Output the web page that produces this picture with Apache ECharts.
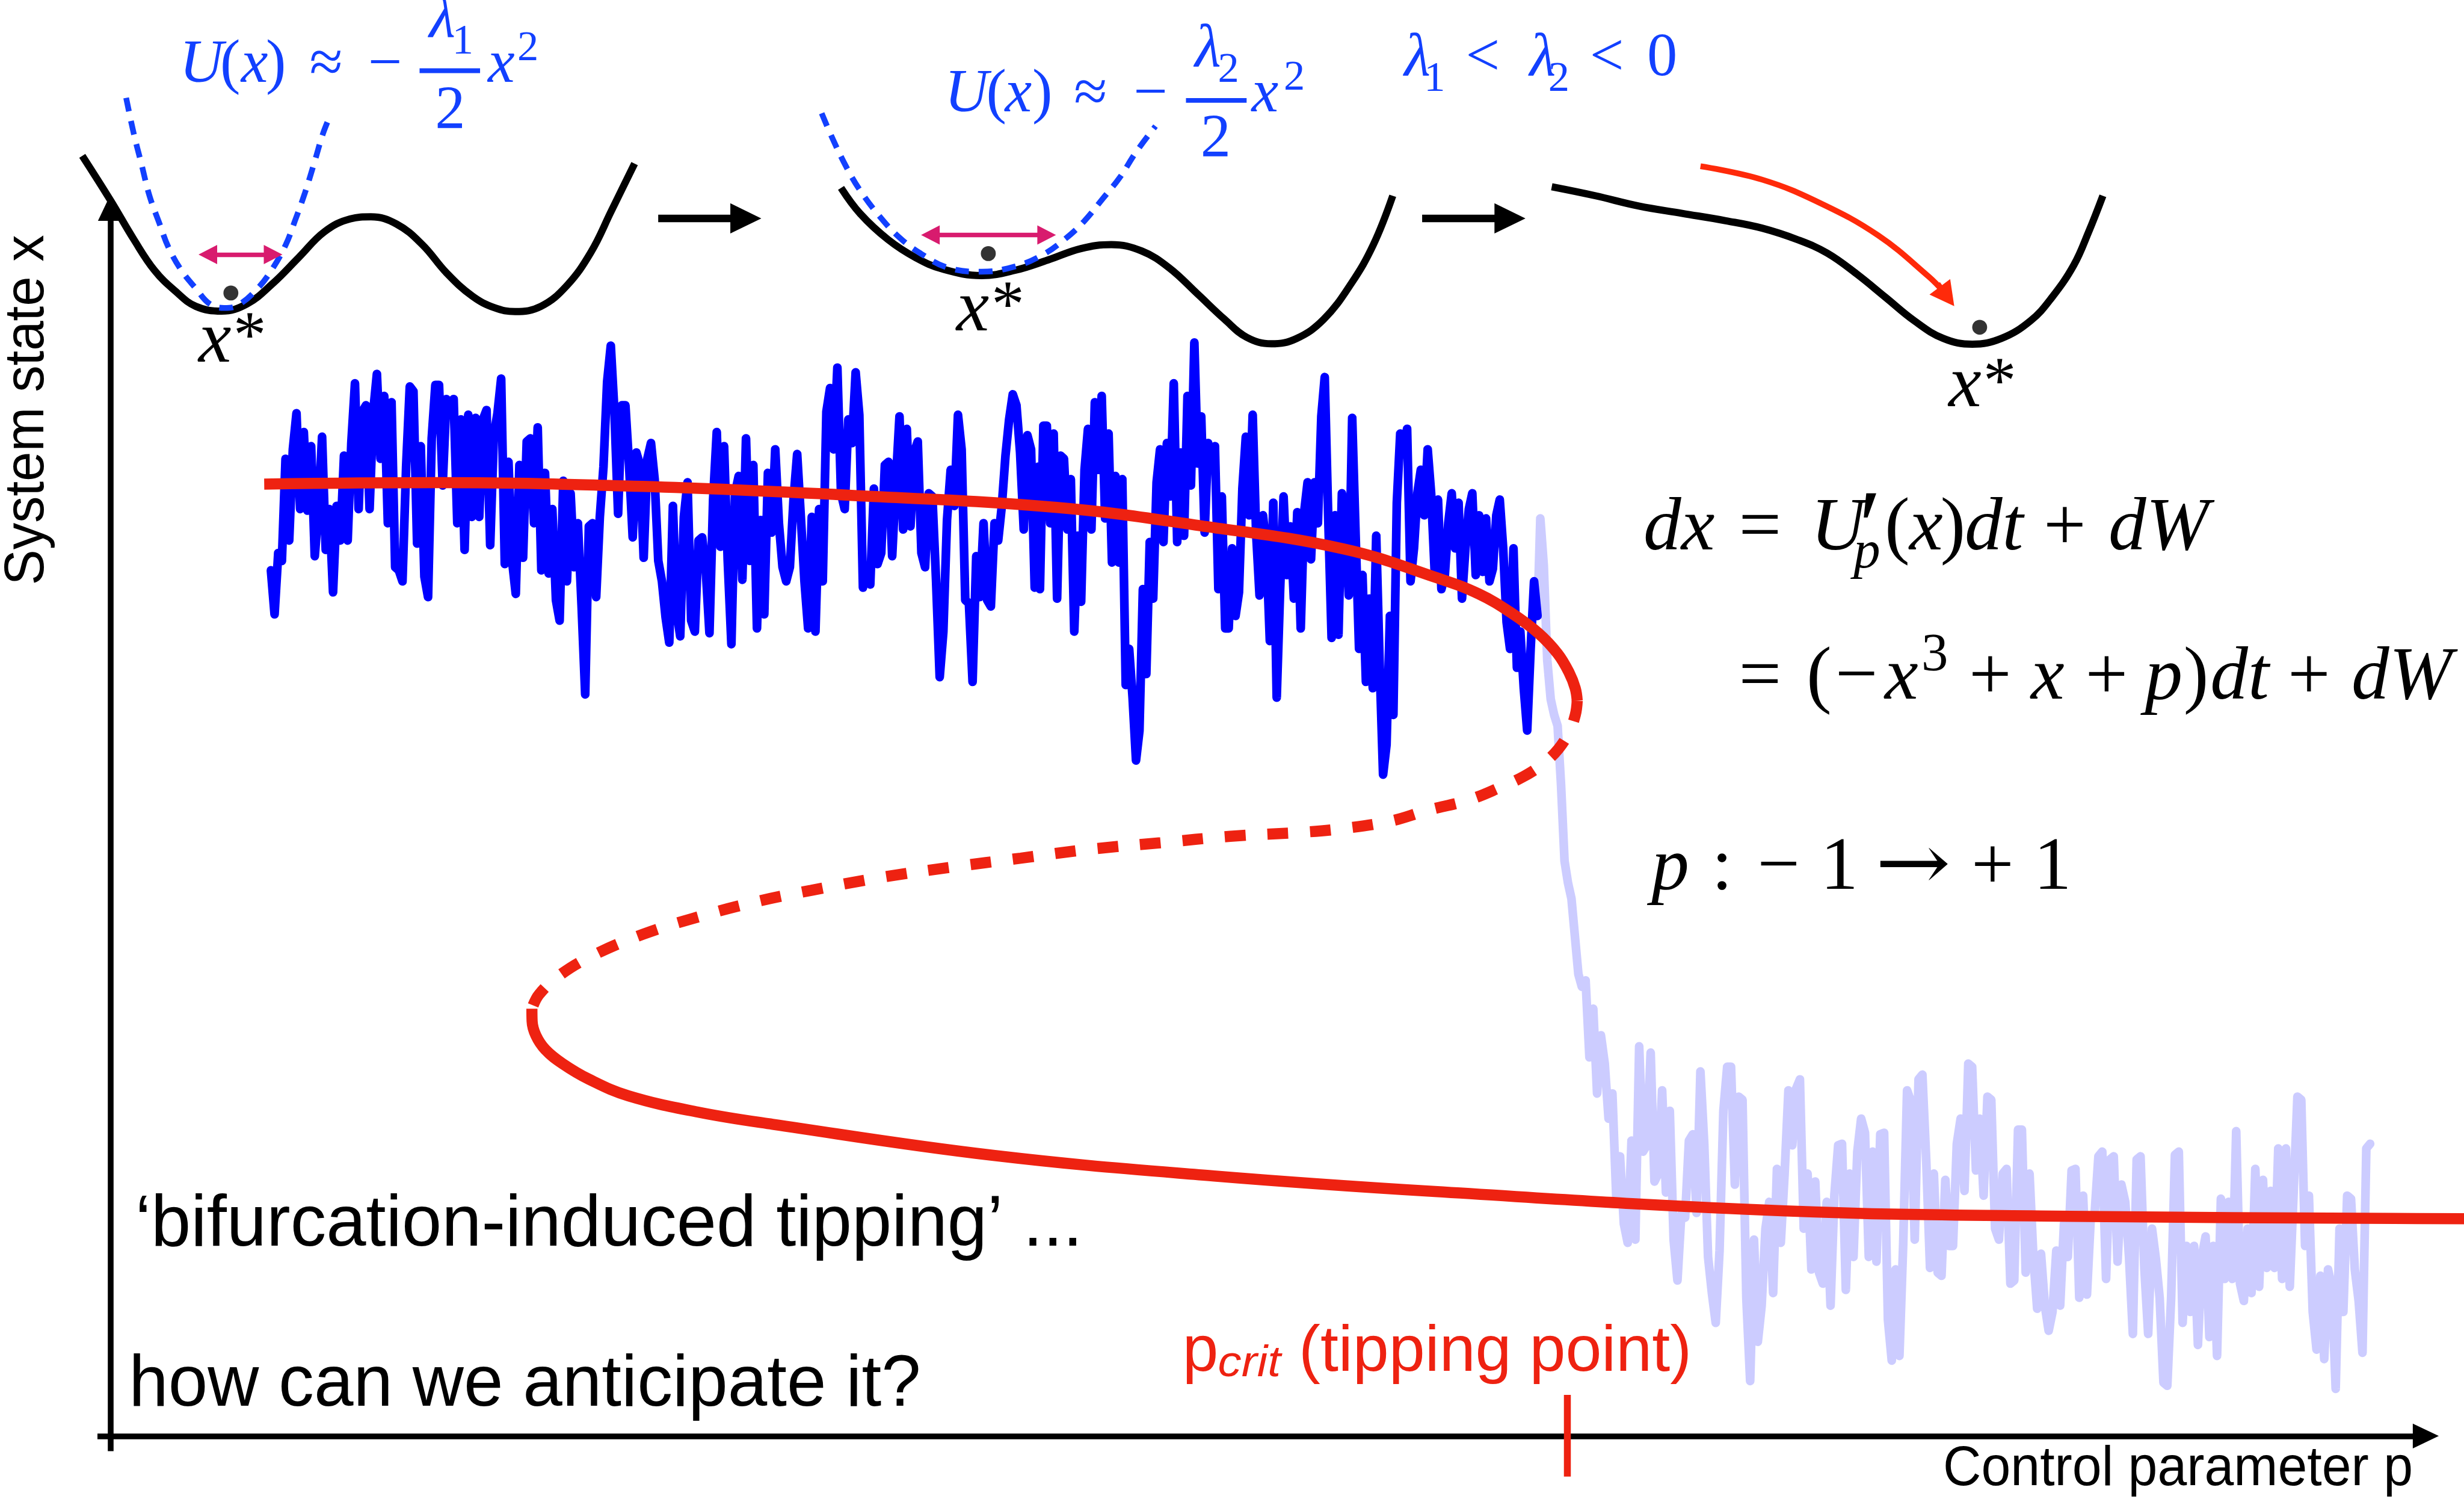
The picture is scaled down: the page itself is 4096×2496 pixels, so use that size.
<!DOCTYPE html>
<html>
<head>
<meta charset="utf-8">
<title>Bifurcation-induced tipping</title>
<script src="https://cdn.jsdelivr.net/npm/echarts@6/dist/echarts.min.js"></script>
<style>
  html, body { margin: 0; padding: 0; background: #ffffff; }
  #chart { width: 4096px; height: 2496px; }
</style>
</head>
<body>
<div id="chart"></div>
<script>
// ---------------------------------------------------------------------------
// Data
// ---------------------------------------------------------------------------

// Equilibrium branches of dx = (-x^3 + x + p)dt : [control parameter p, state x]
const upperBranch = [
  [-1.0028, 6.059], [-0.8382, 6.068], [-0.6417, 6.044], [-0.4450, 5.988], [-0.2466, 5.910],
  [-0.1097, 5.794], [0.0271, 5.646], [0.1184, 5.457], [0.1559, 5.360], [0.1868, 5.240],
  [0.2129, 5.110], [0.2312, 4.980], [0.2421, 4.860], [0.2480, 4.760], [0.2499, 4.680]
];
const unstableBranch = [
  [0.2499, 4.680], [0.2481, 4.590], [0.2421, 4.480], [0.2316, 4.370], [0.2174, 4.280],
  [0.1994, 4.200], [0.1769, 4.130], [0.1469, 4.050], [0.1057, 3.980], [0.0724, 3.915],
  [0.0256, 3.866], [-0.0142, 3.842], [-0.0810, 3.817], [-0.1477, 3.776], [-0.2144, 3.735],
  [-0.2811, 3.678], [-0.3478, 3.620], [-0.4144, 3.555], [-0.4811, 3.473], [-0.5345, 3.399],
  [-0.5945, 3.293], [-0.6412, 3.194], [-0.6879, 3.063], [-0.7211, 2.932], [-0.7406, 2.810],
  [-0.7474, 2.720]
];
const lowerBranch = [
  [-0.7474, 2.720], [-0.7472, 2.640], [-0.7436, 2.550], [-0.7346, 2.460], [-0.7181, 2.370],
  [-0.6927, 2.270], [-0.6552, 2.165], [-0.5877, 2.060], [-0.5177, 1.984], [-0.3070, 1.786],
  [-0.0966, 1.655], [0.1141, 1.556], [0.4483, 1.433], [0.7202, 1.398], [1.0292, 1.385],
  [1.0960, 1.383]
];
const pCrit = 0.2405;

// Simulated trajectory x(t) while p is ramped from -1 to +1 (evenly spaced in p per stretch)
const sweepDarkA = [-0.9964, -0.2642];
const darkA = [
  5.51,5.23,5.62,5.57,6.22,5.70,6.28,6.51,5.90,6.39,
  5.89,6.30,5.60,5.90,6.36,5.64,5.90,5.37,5.92,5.70,
  6.24,5.70,6.32,6.70,5.90,6.52,6.56,5.90,6.52,6.76,
  6.22,6.62,5.81,6.58,5.53,5.51,5.44,6.17,6.68,6.65,
  5.68,6.30,5.47,5.34,6.35,6.69,6.69,6.05,6.60,6.52,
  6.60,5.81,6.47,5.64,6.50,5.85,6.48,5.85,6.47,6.53,
  5.67,6.37,6.51,6.73,5.55,6.20,5.57,5.36,6.18,5.59,
  6.33,6.35,5.81,6.42,5.51,6.13,5.49,5.90,5.32,5.19,
  6.08,5.44,6.00,5.53,5.81,5.29,4.72,5.79,5.81,5.34,
  5.85,6.17,6.71,6.94,6.52,5.87,6.56,6.56,6.18,5.72,
  6.26,6.18,5.59,6.22,6.32,6.09,5.57,5.44,5.21,5.05,
  5.92,5.25,5.09,5.85,6.07,5.19,5.12,5.70,5.72,5.51,
  5.11,5.96,6.39,5.66,6.30,5.57,5.04,6.00,6.11,5.45,
  6.35,5.57,6.18,5.14,5.83,5.23,6.13,5.75,6.28,5.81,
  5.53,5.44,5.53,5.96,6.25,5.85,5.44,5.14,5.85,5.12,
  5.90,5.44,6.52,6.67,6.28,6.80,6.00,5.90,6.47,6.32,
  6.77,6.50,5.40,5.53,5.42,6.03,5.55,5.62,6.18,6.20,
  5.60,6.07,6.49,5.77,6.41,5.79,6.26,6.33,5.62,5.53,
  6.00,5.98,5.45,4.83,5.12,5.83,6.15,5.92,6.50,6.28,
  5.32,5.30,4.80,5.60,5.34,5.81,5.32,5.28,5.81,5.70,
  5.92,6.24,6.47,6.63,6.56,6.26,5.77,6.37,6.28,5.40,
  6.17
];
const sweepDarkB = [-0.2627, 0.2120];
const darkB = [
  5.39,6.43,6.43,5.81,6.38,5.33,6.24,6.22,5.77,6.09,
  5.12,5.73,5.31,6.15,6.41,5.77,6.58,6.15,6.62,5.84,
  6.38,5.56,6.11,5.56,6.09,4.78,5.01,4.70,4.30,4.49,
  5.39,4.85,5.69,5.33,6.07,6.28,5.69,6.32,5.98,6.70,
  5.69,6.26,5.73,6.62,6.05,6.96,6.19,6.49,5.75,6.32,
  6.24,6.30,5.39,5.98,5.14,5.14,5.65,5.22,5.37,6.03,
  6.36,5.86,6.50,5.75,5.35,5.86,5.65,5.06,5.94,4.70,
  5.39,5.98,5.48,5.79,5.33,5.88,5.14,5.88,6.07,5.58,
  6.07,5.81,6.49,6.74,5.86,5.08,5.86,5.10,6.00,5.86,
  5.35,6.48,5.73,5.01,5.48,4.80,5.33,4.76,5.73,4.91,
  4.21,4.40,5.22,4.59,5.94,6.38,6.28,6.41,5.44,5.65,
  6.00,6.15,5.86,6.28,6.00,5.52,5.96,5.39,5.48,5.81,
  6.00,5.65,5.94,5.33,5.65,5.90,6.00,5.48,5.86,5.50,
  5.84,5.44,5.52,5.86,5.96,5.65,5.18,5.01,5.65,4.89,
  5.12,4.76,4.49,5.01,5.44,5.22
];
const sweepLightA = [0.2147, 0.2543];
const lightA = [5.84,5.54,4.94,4.69,4.59,4.52,4.14,3.66,3.52,3.42,3.18,2.94,2.86];
const sweepLightB = [0.2579, 1.0064];
const lightB = [
  2.90,2.41,2.72,2.18,2.55,2.37,2.02,2.18,1.53,1.78,
  1.35,1.23,1.88,1.25,2.48,1.81,1.85,2.44,1.62,1.67,
  2.20,1.55,2.07,1.25,0.99,1.41,1.39,1.88,1.92,1.42,
  2.32,1.86,1.14,0.91,0.72,1.18,2.07,2.35,2.35,1.60,
  2.16,2.14,0.88,0.35,1.25,0.60,0.83,1.32,1.49,0.91,
  1.70,1.23,1.67,2.20,1.85,2.21,2.27,1.32,1.67,1.06,
  1.62,1.04,0.97,1.49,0.83,1.53,1.85,1.86,0.93,1.67,
  1.14,1.81,2.02,1.93,1.14,1.81,1.11,1.92,1.93,0.74,
  0.48,1.06,0.51,1.23,2.20,2.13,1.25,2.27,2.30,1.76,
  1.07,1.67,1.04,1.02,1.63,1.21,1.21,1.86,2.02,1.56,
  2.37,2.35,1.69,2.02,1.53,2.16,2.14,1.32,1.25,1.67,
  1.70,0.97,0.99,1.95,1.95,1.04,1.67,1.14,0.81,1.16,
  0.83,0.67,0.79,1.18,0.83,1.35,1.14,1.69,1.70,0.88,
  1.53,0.90,1.39,1.41,1.78,1.81,1.00,1.76,1.78,1.11,
  1.60,1.49,1.14,0.65,1.76,1.78,1.07,0.65,1.32,1.13,
  0.88,0.34,0.32,0.88,1.79,1.81,0.72,1.21,0.79,1.21,
  0.58,1.14,1.27,0.63,1.21,0.51,1.51,1.00,1.49,1.00,
  1.94,0.97,0.86,1.32,0.91,1.70,0.95,1.63,1.07,1.56,
  1.07,1.83,1.00,1.83,0.95,1.55,2.16,2.14,1.21,1.53,
  0.79,0.55,1.02,0.49,1.06,0.95,0.30,1.32,0.79,1.53,
  1.51,1.06,0.86,0.53,1.83,1.86
];

// Potential landscapes U(q) at three stages, and their quadratic approximations
const wellEarly = [
  [-1.943,0.647],[-1.750,0.170],[-1.594,-0.240],[-1.454,-0.568],[-1.314,-0.787],[-1.174,-0.950],
  [-1.000,-1.000],[-0.827,-0.923],[-0.652,-0.705],[-0.478,-0.432],[-0.303,-0.158],[-0.129,-0.022],
  [0.011,0.000],[0.185,-0.077],[0.359,-0.295],[0.523,-0.595],[0.698,-0.842],[0.848,-0.965],
  [0.987,-1.005],[1.162,-0.950],[1.336,-0.732],[1.500,-0.377],[1.638,0.060],[1.796,0.565]
];
const quadEarly = [
  [-1.646,1.262],[-1.594,0.880],[-1.541,0.552],[-1.488,0.223],[-1.419,-0.077],[-1.360,-0.322],
  [-1.272,-0.568],[-1.174,-0.760],[-1.081,-0.923],[-0.983,-0.967],[-0.889,-0.937],[-0.756,-0.760],
  [-0.652,-0.542],[-0.565,-0.295],[-0.505,-0.050],[-0.436,0.252],[-0.366,0.607],[-0.314,0.880],
  [-0.262,1.085]
];
const wellLate = [
  [-1.934,0.607],[-1.804,0.333],[-1.617,0.060],[-1.430,-0.132],[-1.244,-0.255],[-0.982,-0.323],
  [-0.757,-0.268],[-0.533,-0.158],[-0.310,-0.037],[-0.104,0.005],[0.102,-0.063],[0.288,-0.242],
  [0.476,-0.513],[0.662,-0.787],[0.812,-0.978],[0.979,-1.047],[1.148,-0.992],[1.334,-0.787],
  [1.521,-0.405],[1.670,0.005],[1.801,0.523]
];
const quadLate = [
  [-2.065,1.398],[-1.990,1.125],[-1.897,0.825],[-1.804,0.578],[-1.673,0.305],[-1.543,0.087],
  [-1.394,-0.090],[-1.206,-0.242],[-0.982,-0.282],[-0.757,-0.227],[-0.571,-0.105],[-0.421,0.060],
  [-0.290,0.250],[-0.160,0.497],[-0.048,0.715],[0.064,0.988],[0.195,1.262]
];
const wellTipped = [
  [-1.846,0.352],[-1.551,0.257],[-1.257,0.148],[-0.963,0.070],[-0.668,-0.008],[-0.422,-0.087],
  [-0.177,-0.212],[0.019,-0.352],[0.216,-0.570],[0.413,-0.820],[0.609,-1.070],[0.805,-1.257],
  [1.001,-1.318],[1.198,-1.257],[1.395,-1.070],[1.541,-0.820],[1.689,-0.477],[1.787,-0.133],
  [1.885,0.257]
];
const driftPath = [[-0.839,0.570],[-0.422,0.428],[-0.030,0.180],[0.363,-0.163],[0.707,-0.602],[0.805,-0.757]];
const driftHead = [[0.766,-0.678],[0.830,-0.812]];
const statesEarly = [[-0.937,-0.808]], statesLate = [[-0.937,-0.090]], statesTipped = [[1.051,-1.138]];
const spreadEarly = [[-1.093,-0.400],[-0.651,-0.400]];
const spreadLate = [[-1.329,0.108],[-0.542,0.108]];

// ---------------------------------------------------------------------------
// Layout: the drawing is designed on a 1568 x 956 board, scaled to the page
// ---------------------------------------------------------------------------
const W = 4096, H = 2496, BW = 1568, BH = 956;
const KX = W / BW, KY = H / BH, K = KX;

// A coordinate frame spanning the whole board: origin (board units) and unit lengths
function frame(ox, oy, ux, uy) {
  return { x0: -ox / ux, x1: (BW - ox) / ux, y0: -(BH - oy) / uy, y1: oy / uy };
}
const frames = [
  frame(837, 914, 667, 100),   // 0: bifurcation diagram (p, x)
  frame(235, 138, 94, 60),     // 1: early landscape
  frame(717, 156, 94, 60),     // 2: landscape close to the fold
  frame(1161, 140, 94, 60)     // 3: landscape after tipping
];

const RED = '#ee2211', BLUE = '#0000ff', LIGHT = '#ccccff', MATH_BLUE = '#1240ff',
      PINK = '#d81b6e', INK = '#000000', DRIFT = '#ff2a0a';
const TRACE_W = 14.5, BRANCH_W = 18.5;

function spread(values, range) {
  const n = values.length;
  return values.map((v, i) => [range[0] + (range[1] - range[0]) * i / (n - 1), v]);
}
const darkPts = spread(darkA, sweepDarkA).concat(spread(darkB, sweepDarkB));
const lightPts = [darkPts[darkPts.length - 1]]
  .concat(spread(lightA, sweepLightA))
  .concat(spread(lightB, sweepLightB));

function curve(fi, data, color, width, extra) {
  return Object.assign({
    type: 'line', xAxisIndex: fi, yAxisIndex: fi, data: data,
    symbol: 'none', showSymbol: false, silent: true, animation: false, clip: false,
    lineStyle: { color: color, width: width, cap: 'butt', join: 'round' }
  }, extra || {});
}
function arrows(fi, segs, color, width, symbols, size, z) {
  return {
    type: 'line', xAxisIndex: fi, yAxisIndex: fi, data: [], silent: true,
    animation: false, clip: false, z: z,
    markLine: {
      silent: true, animation: false, symbol: symbols, symbolSize: size,
      label: { show: false }, emphasis: { disabled: true },
      lineStyle: { color: color, width: width, type: 'solid', cap: 'butt', opacity: 1 },
      data: segs.map(s => [{ coord: s[0] }, { coord: s[1] }])
    }
  };
}
function dots(fi, data) {
  return {
    type: 'scatter', xAxisIndex: fi, yAxisIndex: fi, data: data, symbol: 'circle',
    symbolSize: 9.5 * K, silent: true, animation: false, z: 6,
    itemStyle: { color: INK }
  };
}

const series = [
  // trajectory after and before the tipping point
  curve(0, lightPts, LIGHT, TRACE_W, { z: 2, lineStyle: { color: LIGHT, width: TRACE_W, cap: 'round', join: 'round' } }),
  curve(0, darkPts, BLUE, TRACE_W, { z: 3, lineStyle: { color: BLUE, width: TRACE_W, cap: 'round', join: 'round' } }),
  // equilibrium branches
  curve(0, upperBranch, RED, BRANCH_W, { z: 4, smooth: 0.4 }),
  curve(0, unstableBranch, RED, BRANCH_W, { z: 4, smooth: 0.4,
    lineStyle: { color: RED, width: BRANCH_W, type: [34.5, 36.4], cap: 'butt' } }),
  curve(0, lowerBranch, RED, BRANCH_W, { z: 4, smooth: 0.4 }),
  // axes with arrow heads
  arrows(0, [[[-1.1619, 0], [1.0595, 0]], [[-1.1496, -0.096], [-1.1496, 7.817]]],
         INK, 9.6, ['none', 'triangle'], [41.2, 43.2], 5),
  // tipping point tick
  curve(0, [[pCrit, 0.262], [pCrit, -0.258]], RED, 11.5, { z: 5 }),

  // landscapes
  curve(1, wellEarly, INK, 12, { z: 2, smooth: 0.4 }),
  curve(1, quadEarly, MATH_BLUE, 9.5, { z: 3, smooth: 0.4,
    lineStyle: { color: MATH_BLUE, width: 9.5, type: [23, 16.3], cap: 'butt' } }),
  arrows(1, [spreadEarly], PINK, 7.3, ['triangle', 'triangle'], [32, 31], 5),
  dots(1, statesEarly),
  arrows(1, [[[1.956, -0.0167], [2.549, -0.0167]]], INK, 12.4, ['none', 'triangle'], [50.4, 51.5], 2),

  curve(2, wellLate, INK, 12, { z: 2, smooth: 0.4 }),
  curve(2, quadLate, MATH_BLUE, 9.5, { z: 3, smooth: 0.4,
    lineStyle: { color: MATH_BLUE, width: 9.5, type: [23, 16.3], cap: 'butt' } }),
  arrows(2, [spreadLate], PINK, 7.3, ['triangle', 'triangle'], [32, 31], 5),
  dots(2, statesLate),
  arrows(2, [[[2.0, 0.2833], [2.5946, 0.2833]]], INK, 12.4, ['none', 'triangle'], [50.4, 51.5], 2),

  curve(3, wellTipped, INK, 12, { z: 2, smooth: 0.4 }),
  curve(3, driftPath, DRIFT, 9.6, { z: 4, smooth: 0.4 }),
  arrows(3, [driftHead], DRIFT, 9.6, ['none', 'triangle'], [43, 40], 4),
  dots(3, statesTipped)
];

// ---------------------------------------------------------------------------
// Text
// ---------------------------------------------------------------------------
const measureCtx = document.createElement('canvas').getContext('2d');
function fontOf(size, family, italic) {
  return (italic ? 'italic ' : '') + (size * K).toFixed(2) + 'px "' + family + '"';
}
function textWidth(text, font) { measureCtx.font = font; return measureCtx.measureText(text).width; }

// serif math glyph, centred on cx with its baseline at `base`; optional horizontal stretch
function mathText(text, cx, base, size, italic, color, stretch, family) {
  const font = fontOf(size, family || 'Liberation Serif', italic);
  return {
    type: 'text', z: 100, silent: true, x: cx * KX, y: (base - 0.3375 * size) * KY,
    scaleX: stretch || 1,
    style: { text: text, fill: color || INK, font: font, align: 'center', verticalAlign: 'middle' }
  };
}
// sans text, left aligned, optionally condensed to a given advance width
function sansText(text, left, base, size, width, color, italic) {
  const font = fontOf(size, 'Liberation Sans', italic);
  const sx = width ? width * KX / textWidth(text, font) : 1;
  return {
    type: 'text', z: 100, silent: true, x: left * KX, y: (base - 0.3465 * size) * KY, scaleX: sx,
    style: { text: text, fill: color || INK, font: font, align: 'left', verticalAlign: 'middle' }
  };
}
function fractionBar(x0, x1, y, color) {
  return { type: 'rect', z: 100, silent: true,
    shape: { x: x0 * KX, y: (y - 1.5) * KY, width: (x1 - x0) * KX, height: 3 * KY },
    style: { fill: color } };
}

const B = MATH_BLUE;
const mathGlyphs = [
  // U(x) ≈ −(λ1/2) x²
  ['U',128.2,54.9,38.5,1,B], ['(',146.5,54.9,38.5,0,B], ['x',162,54.9,38.5,1,B], [')',175.6,54.9,38.5,0,B],
  ['≈',207.5,54.9,38.5,0,B], ['−',245,54.9,38.5,0,B], ['λ',281.5,26.2,38.5,1,B], ['1',294.5,36,27,0,B],
  ['2',286.5,84.4,38.5,0,B], ['x',319,54.9,38.5,1,B], ['2',336,40.2,27,0,B],
  // U(x) ≈ −(λ2/2) x²
  ['U',615,73.8,38.5,1,B], ['(',634,73.8,38.5,0,B], ['x',648,73.8,38.5,1,B], [')',663.3,73.8,38.5,0,B],
  ['≈',694,73.8,38.5,0,B], ['−',732.2,73.8,38.5,0,B], ['λ',768.7,45,38.5,1,B], ['2',781.8,54.1,27,0,B],
  ['2',773.6,102.4,38.5,0,B], ['x',805,73.8,38.5,1,B], ['2',823.7,59,27,0,B],
  // λ1 < λ2 < 0
  ['λ',902,50.6,38.5,1,B], ['1',913,59.9,27,0,B], ['<',943.6,50.6,38.5,0,B], ['λ',981.7,50.6,38.5,1,B],
  ['2',992,59.9,27,0,B], ['<',1022.5,50.6,38.5,0,B], ['0',1057.8,50.6,38.5,0,B],
  // x* labels
  ['x',136.8,233.6,47,1,INK], ['*',158.9,230.3,42,0,INK],
  ['x',619,213.9,47,1,INK], ['*',641.4,210.7,42,0,INK],
  ['x',1250.5,262.2,47,1,INK], ['*',1272.5,259.2,42,0,INK],
  // dx = U'_p(x)dt + dW
  ['dx',1068.5,353.3,48,1,INK], ['=',1120.1,353.3,48,0,INK], ['U',1169.6,353.3,48,1,INK],
  ['′',1190,362,66,0,INK], ['p',1188,363.8,34,1,INK], ['(',1207.3,353.3,48,0,INK],
  ['x',1225.7,353.3,48,1,INK], [')',1242.8,353.3,48,0,INK], ['dt',1268.9,353.3,48,1,INK],
  ['+',1313.9,353.3,48,0,INK], ['dW',1373.7,353.3,48,1,INK],
  //   = (−x³ + x + p)dt + dW
  ['=',1120.1,448.1,48,0,INK], ['(',1157.6,448.1,48,0,INK], ['−',1181.5,448.1,48,0,INK],
  ['x',1210,448.1,48,1,INK], ['3',1231.2,429,34,0,INK], ['+',1266.5,448.1,48,0,INK],
  ['x',1303,448.1,48,1,INK], ['+',1340.6,448.1,48,0,INK], ['p',1376.9,448.1,48,1,INK],
  [')',1397.5,448.1,48,0,INK], ['dt',1425.2,448.1,48,1,INK], ['+',1469.4,448.1,48,0,INK],
  ['dW',1528.4,448.1,48,1,INK],
  // p : −1 → +1
  ['p',1062.9,569.2,48,1,INK], [':',1095.9,569.2,48,0,INK], ['−',1131.9,569.2,48,0,INK],
  ['1',1170.5,569.2,48,0,INK], ['+',1268,569.2,48,0,INK], ['1',1306.2,569.2,48,0,INK]
];

const graphics = mathGlyphs.map(g => mathText(g[0], g[1], g[2], g[3], g[4], g[5]));
graphics.push(mathText('→', 1217.4, 570, 50, 0, INK, 1.15, 'DejaVu Serif'));
graphics.push(fractionBar(267, 305.5, 45, B));
graphics.push(fractionBar(754.7, 793.3, 63.9, B));
graphics.push(sansText('‘bifurcation-induced tipping’ ...', 86, 796, 46, 603));
graphics.push(sansText('how can we anticipate it?', 82, 898, 46, 504));
graphics.push(sansText('Control parameter p', 1236.5, 947.8, 35.5, 299));
graphics.push(sansText('p', 752.5, 875.3, 41, null, RED));
graphics.push(sansText('crit', 775, 877.7, 28, 40, RED, true));
graphics.push(sansText('(tipping point)', 826.5, 875.3, 41, 250, RED));
(function () {
  const size = 35.7, font = fontOf(size, 'Liberation Sans', false), text = 'System state x';
  graphics.push({
    type: 'text', z: 100, silent: true, rotation: Math.PI / 2,
    x: (30 - 0.3465 * size) * KX, y: 261 * KY, scaleX: 223 * KY / textWidth(text, font),
    style: { text: text, fill: INK, font: font, align: 'center', verticalAlign: 'middle' }
  });
})();

// ---------------------------------------------------------------------------
const chart = echarts.init(document.getElementById('chart'), null, { renderer: 'canvas', width: W, height: H });
chart.setOption({
  animation: false,
  backgroundColor: '#ffffff',
  grid: frames.map(() => ({ left: 0, top: 0, right: 0, bottom: 0 })),
  xAxis: frames.map((f, i) => ({ type: 'value', gridIndex: i, min: f.x0, max: f.x1, show: false })),
  yAxis: frames.map((f, i) => ({ type: 'value', gridIndex: i, min: f.y0, max: f.y1, show: false })),
  series: series,
  graphic: { elements: graphics }
});
</script>
</body>
</html>
